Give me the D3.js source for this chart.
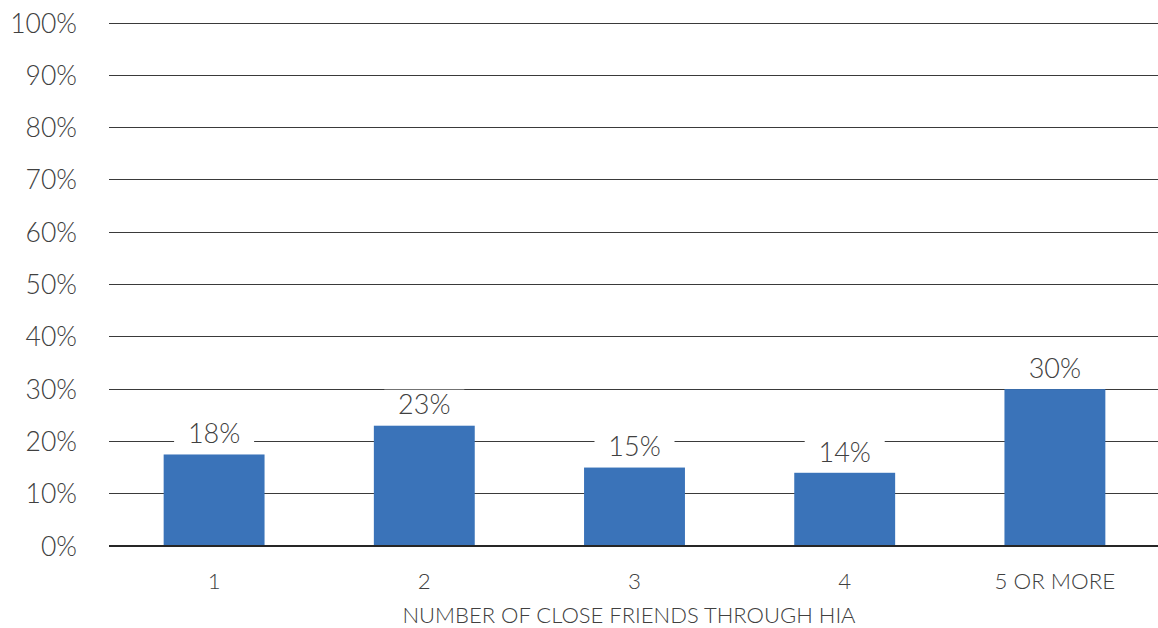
<!DOCTYPE html>
<html><head><meta charset="utf-8">
<script src="https://cdn.jsdelivr.net/npm/d3@7"></script>
<style>body{margin:0;background:#fff}svg{display:block}text{font-family:Lato,"Open Sans",sans-serif;font-weight:300;fill:#404040}</style>
</head><body>
<svg id="c" width="1158" height="628"></svg>
<script>
const categories = ["1","2","3","4","5 OR MORE"];
const values = [17.5, 23, 15, 14, 30];
const labels = ["18%","23%","15%","14%","30%"];
const yTicks = [0,10,20,30,40,50,60,70,80,90,100];
const xTitle = "NUMBER OF CLOSE FRIENDS THROUGH HIA";

const svg = d3.select("#c");
const x = d3.scaleBand().domain(categories).range([109,1160]).paddingInner(0.52).paddingOuter(0.26);
const y = d3.scaleLinear().domain([0,100]).range([546,23]);

svg.append("g").selectAll("line").data(yTicks.filter(d=>d>0)).join("line")
  .attr("x1",109).attr("x2",1158).attr("y1",d=>y(d)).attr("y2",d=>y(d))
  .attr("stroke","#3a3a3a").attr("stroke-width",1).attr("shape-rendering","crispEdges");

svg.append("g").selectAll("text").data(yTicks).join("text")
  .attr("x",77).attr("y",d=>y(d)).attr("dy","0.36em").attr("text-anchor","end")
  .style("font-size","26.5px").text(d=>d+"%");

svg.append("g").selectAll("rect").data(values).join("rect")
  .attr("x",(d,i)=>x(categories[i])).attr("width",x.bandwidth())
  .attr("y",d=>y(d)).attr("height",d=>y(0)-y(d)).attr("fill","#3a73b9");

svg.append("line").attr("x1",109).attr("x2",1158).attr("y1",y(0)).attr("y2",y(0))
  .attr("stroke","#262626").attr("stroke-width",2);

const lg = svg.append("g").selectAll("g").data(values).join("g")
  .attr("transform",(d,i)=>`translate(${x(categories[i])+x.bandwidth()/2},${y(d)-21})`);
lg.append("rect").attr("x",-40).attr("y",-15).attr("width",80).attr("height",30).attr("fill","#fff");
lg.append("text").attr("text-anchor","middle").attr("dy","0.36em").style("font-size","27px")
  .text((d,i)=>labels[i]);

svg.append("g").selectAll("text").data(categories).join("text")
  .attr("x",d=>x(d)+x.bandwidth()/2).attr("y",581).attr("dy","0.36em").attr("text-anchor","middle")
  .style("font-size","22.3px").text(d=>d);

svg.append("text").attr("x",629).attr("y",615).attr("dy","0.36em").attr("text-anchor","middle")
  .style("font-size","22px").text(xTitle);
</script>
</body></html>
